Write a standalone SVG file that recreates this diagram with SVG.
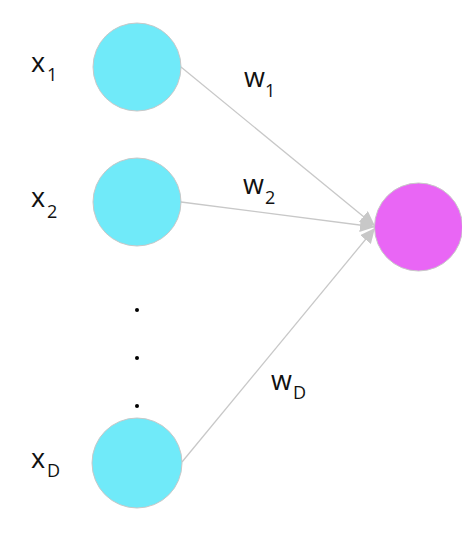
<svg xmlns="http://www.w3.org/2000/svg" width="462" height="558" viewBox="0 0 462 558">
<style>
.in{fill:#70eaf9;stroke:#c8c8c8;stroke-width:1}
.out{fill:#e966f5;stroke:#c8c8c8;stroke-width:1}
.edge{stroke:#c8c8c8;stroke-width:1.3;fill:none}
.lbl{font-family:"Open Sans",sans-serif;font-size:27px;fill:#111}
.sub{font-family:"Open Sans",sans-serif;font-size:18px;fill:#111}
.dot{fill:#000}
</style>
<defs>
<marker id="arr" markerUnits="userSpaceOnUse" markerWidth="16" markerHeight="14" refX="15" refY="7" orient="auto">
<path d="M0,0 L15,7 L0,14 Z" fill="#c8c8c8"/>
</marker>
</defs>
<rect width="462" height="558" fill="#fff"/>
<g id="connectors">
<line class="edge" x1="181" y1="67" x2="375" y2="226" marker-end="url(#arr)"/>
<line class="edge" x1="181" y1="202" x2="375" y2="227" marker-end="url(#arr)"/>
<line class="edge" x1="182" y1="462" x2="375" y2="228" marker-end="url(#arr)"/>
</g>
<g id="x1"><circle class="in" cx="137" cy="67" r="44"/><text class="lbl" x="31" y="72">x</text><text class="sub" x="47" y="81">1</text></g>
<g id="x2"><circle class="in" cx="137" cy="202" r="44"/><text class="lbl" x="31" y="207">x</text><text class="sub" x="47" y="218">2</text></g>
<g id="xD"><circle class="in" cx="137" cy="463" r="45"/><text class="lbl" x="31" y="468">x</text><text class="sub" x="47" y="477">D</text></g>
<g id="out"><circle class="out" cx="418.5" cy="227" r="44"/></g>
<g id="w1"><text class="lbl" x="244" y="87">w</text><text class="sub" x="265" y="97">1</text></g>
<g id="w2"><text class="lbl" x="243" y="194">w</text><text class="sub" x="265" y="204">2</text></g>
<g id="wD"><text class="lbl" x="271" y="390">w</text><text class="sub" x="293" y="399">D</text></g>
<g id="dots">
<circle class="dot" cx="137" cy="310" r="2"/>
<circle class="dot" cx="137" cy="358" r="2"/>
<circle class="dot" cx="137" cy="406" r="2"/>
</g>
</svg>
